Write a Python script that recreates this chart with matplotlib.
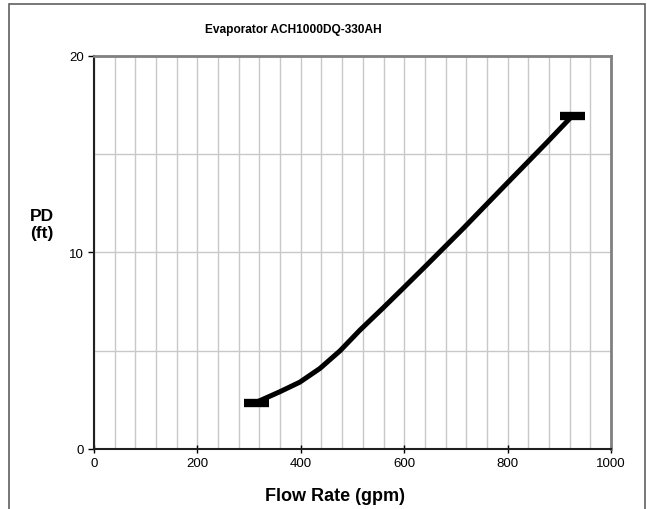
import matplotlib.pyplot as plt
from matplotlib.patches import Rectangle
from matplotlib.ticker import MultipleLocator

plt.rcParams['font.family'] = ['Liberation Sans', 'DejaVu Sans']

# pressure drop curve
flow_gpm = [314, 360, 398, 437, 476, 514, 560, 598, 643, 714, 760, 801, 876, 925]
pd_ft = [2.38, 2.92, 3.40, 4.10, 5.00, 6.04, 7.20, 8.18, 9.35, 11.22, 12.47, 13.58, 15.60, 16.95]

# min / max flow markers
limit_flow = [314, 925]
limit_pd = [2.35, 16.95]

fig = plt.figure(figsize=(6.47, 5.10), dpi=100)
ax = fig.add_axes([94 / 647, 60 / 510, 517 / 647, 393 / 510])

ax.plot(flow_gpm, pd_ft, color='black', lw=3.6, solid_joinstyle='round', zorder=3)
ax.plot(limit_flow, limit_pd, ls='none', marker='_', color='black',
        markersize=18, markeredgewidth=6, zorder=4)

ax.set_xlim(0, 1000)
ax.set_ylim(0, 20)
ax.xaxis.set_major_locator(MultipleLocator(200))
ax.xaxis.set_minor_locator(MultipleLocator(40))
ax.yaxis.set_major_locator(MultipleLocator(10))
ax.yaxis.set_minor_locator(MultipleLocator(5))
ax.grid(which='both', color='#c8c8c8', lw=1.0, zorder=0)
ax.set_axisbelow(True)

ax.tick_params(which='major', direction='out', length=4, width=1, labelsize=9.5, pad=3)
ax.tick_params(which='minor', length=0)
ax.tick_params(axis='x', direction='inout', length=6)

for side in ('left', 'bottom'):
    ax.spines[side].set_color('#202020')
    ax.spines[side].set_linewidth(1.5)
for side in ('top', 'right'):
    ax.spines[side].set_color('#808080')
    ax.spines[side].set_linewidth(2)

fig.text(293 / 647, 1 - 30 / 510, 'Evaporator ACH1000DQ-330AH', ha='center', va='center',
         fontsize=8.6, fontweight='bold')
fig.text(335 / 647, 1 - 497 / 510, 'Flow Rate (gpm)', ha='center', va='center',
         fontsize=13, fontweight='bold')
fig.text(42 / 647, 1 - 225 / 510, 'PD\n(ft)', ha='center', va='center',
         fontsize=12.5, fontweight='bold', linespacing=1.1)

# outer chart border
fig.patches.append(Rectangle((9 / 647, -0.02), 636 / 647, 1.02 - 5 / 510,
                             transform=fig.transFigure, fill=False,
                             edgecolor='#606060', lw=1.2))

fig.savefig('out.png', dpi=100)
